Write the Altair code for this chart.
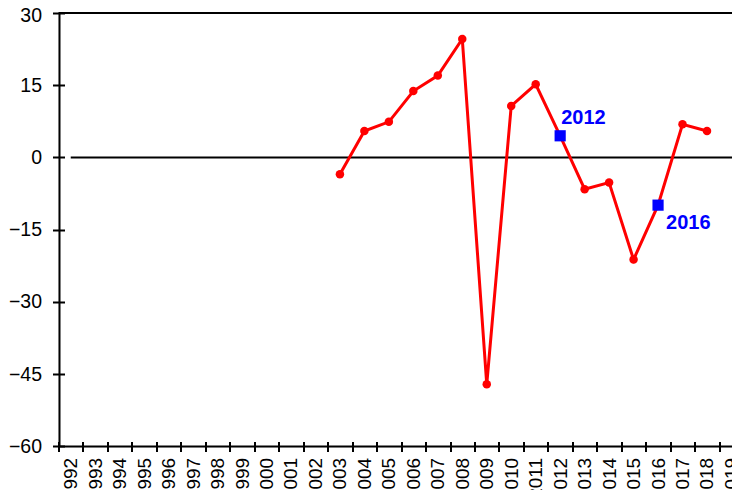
import altair as alt
import pandas as pd

# ---- data ----
years = [str(y) for y in range(1992, 2020)]
data_years = ["2003", "2004", "2005", "2006", "2007", "2008", "2009", "2010",
              "2011", "2012", "2013", "2014", "2015", "2016", "2017", "2018"]
values = [-3.5, 5.5, 7.4, 13.8, 17.0, 24.6, -47.1, 10.7,
          15.2, 4.5, -6.6, -5.2, -21.2, -9.9, 6.9, 5.5]
highlight_years = ["2012", "2016"]
y_ticks = [-60, -45, -30, -15, 0, 15, 30]
title_text = "1992-2018 гг., процентные пункты"

df = pd.DataFrame({"year": data_years, "value": values})
df["hl"] = df["year"].isin(highlight_years)

FONT = "Liberation Sans"
W = 673.5
H = 433.4

x_scale = alt.Scale(domain=years, range=[0, 685.2], paddingInner=0, paddingOuter=0)
y_scale = alt.Scale(domain=[-60, 30], nice=False, zero=False)

x_axis = alt.Axis(title=None, domain=False, grid=False, tickBand="extent",
                  tickSize=10, offset=-5, tickWidth=2, tickColor="black",
                  labelAngle=270, labelAlign="right", labelBaseline="middle",
                  labelPadding=6, labelFontSize=19, labelFont=FONT,
                  labelColor="black", labelOverlap=False)
y_axis = alt.Axis(title=None, domain=False, grid=False, values=y_ticks,
                  tickSize=12, offset=-6, tickWidth=2, tickColor="black",
                  labelPadding=11, labelFontSize=19.5, labelFont=FONT,
                  labelColor="black",
                  labelOffset={"condition": {"test": "datum.value == 30", "value": 2.5},
                               "value": 0})

base = alt.Chart(df)

x_enc = alt.X("year:N", scale=x_scale, axis=x_axis)
y_enc = alt.Y("value:Q", scale=y_scale, axis=y_axis)

line = base.mark_line(color="#ff0000", strokeWidth=3).encode(x=x_enc, y=y_enc)
dots = base.mark_circle(color="#ff0000", size=72, opacity=1).encode(x="year:N", y="value:Q")
squares = base.transform_filter("datum.hl").mark_square(
    color="#0000ff", size=125, opacity=1).encode(x="year:N", y="value:Q")

lab12 = base.transform_filter("datum.year == '2012'").mark_text(
    color="#0000ff", font=FONT, fontSize=20, fontWeight="bold",
    align="left", baseline="alphabetic", dx=1, dy=-12
).encode(x="year:N", y="value:Q", text="year:N")
lab16 = base.transform_filter("datum.year == '2016'").mark_text(
    color="#0000ff", font=FONT, fontSize=20, fontWeight="bold",
    align="left", baseline="alphabetic", dx=8, dy=24
).encode(x="year:N", y="value:Q", text="year:N")

frame_top = alt.Chart().mark_rule(color="black", strokeWidth=2).encode(y=alt.datum(30))
frame_bottom = alt.Chart().mark_rule(color="black", strokeWidth=2).encode(y=alt.datum(-60))
frame_left = alt.Chart().mark_rule(color="black", strokeWidth=2).encode(x=alt.value(1))
zero_line = alt.Chart().mark_rule(color="black", strokeWidth=2).encode(
    x=alt.datum("1992"), x2=alt.value(W + 30), y=alt.datum(0))

chart = alt.layer(
    zero_line, frame_top, frame_bottom, frame_left, line, dots, squares, lab12, lab16
).properties(
    width=W, height=H,
    title=alt.TitleParams(title_text, font=FONT, fontSize=20, fontWeight="bold",
                          color="black", anchor="middle", offset=3),
    autosize=alt.AutoSizeParams(type="none"),
    padding={"left": 50.5, "top": 5, "right": 0, "bottom": 43.6},
).configure_view(stroke=None).configure(background="white")

chart.save("out.html", embed_options={"renderer": "svg", "actions": False})
